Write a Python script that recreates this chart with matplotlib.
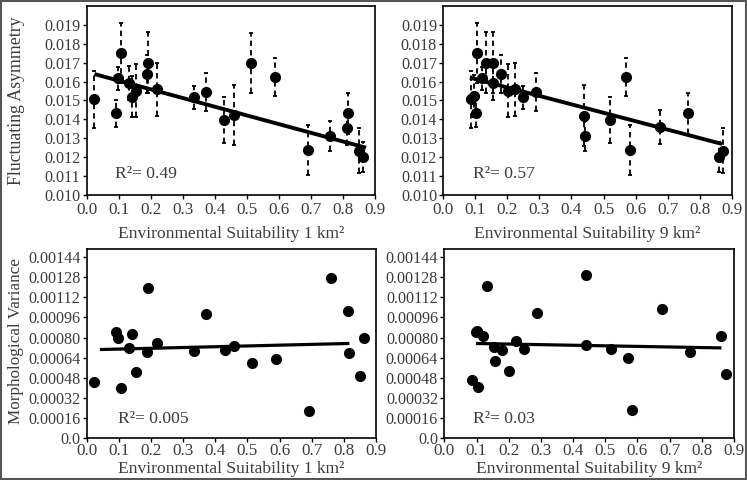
import numpy as np
import matplotlib
matplotlib.use('Agg')
import matplotlib.pyplot as plt
from matplotlib.patches import Rectangle

plt.rcParams['font.family'] = ['Liberation Serif', 'DejaVu Serif']
txt_col = '#3c3c3c'

# environmental suitability of each population (1 km grid)
suit_1km = [0.024, 0.091, 0.098, 0.106, 0.132, 0.142, 0.154, 0.189, 0.190, 0.220, 0.334,
            0.372, 0.429, 0.459, 0.514, 0.589, 0.690, 0.760, 0.812, 0.816, 0.849, 0.864]
fa_1km = [0.01506, 0.01432, 0.01617, 0.01750, 0.01591, 0.01520, 0.01552, 0.01640, 0.01700, 0.01559, 0.01517,
          0.01547, 0.01397, 0.01423, 0.01697, 0.01626, 0.01238, 0.01314, 0.01356, 0.01432, 0.01234, 0.01199]
fa_err_1km = [0.0015, 0.0007, 0.0006, 0.0016, 0.0009, 0.0011, 0.0014, 0.0010, 0.0016, 0.0014, 0.0006,
              0.0010, 0.0012, 0.0016, 0.0016, 0.0010, 0.0013, 0.0008, 0.0009, 0.0011, 0.0012, 0.0008]
mv_1km = [0.000449, 0.000840, 0.000798, 0.000402, 0.000719, 0.000827, 0.000523, 0.000687, 0.001189, 0.000758, 0.000695,
          0.000985, 0.000697, 0.000734, 0.000600, 0.000626, 0.000217, 0.001276, 0.001009, 0.000676, 0.000494, 0.000800]

# same populations, 9 km grid
suit_9km = [0.086, 0.097, 0.101, 0.104, 0.120, 0.133, 0.154, 0.156, 0.179, 0.202, 0.223,
            0.249, 0.289, 0.439, 0.441, 0.519, 0.571, 0.582, 0.675, 0.763, 0.860, 0.874]
fa_9km = [0.01506, 0.01524, 0.01432, 0.01750, 0.01617, 0.01700, 0.01594, 0.01700, 0.01640, 0.01552, 0.01559,
          0.01517, 0.01547, 0.01420, 0.01312, 0.01397, 0.01626, 0.01238, 0.01358, 0.01432, 0.01199, 0.01234]
fa_err_9km = [0.0015, 0.0011, 0.0007, 0.0016, 0.0006, 0.0016, 0.0009, 0.0016, 0.0010, 0.0014, 0.0014,
              0.0006, 0.0010, 0.0016, 0.0008, 0.0012, 0.0010, 0.0013, 0.0009, 0.0011, 0.0008, 0.0012]
mv_9km = [0.000459, 0.000840, 0.000851, 0.000408, 0.000811, 0.001208, 0.000728, 0.000611, 0.000699, 0.000533, 0.000771,
          0.000707, 0.000997, 0.001293, 0.000744, 0.000707, 0.000635, 0.000221, 0.001024, 0.000688, 0.000811, 0.000507]

# regression lines as drawn in the figure: (intercept, slope, x from, x to)
fit_fa_1km = (0.01651, -0.00460, 0.024, 0.872)
fit_fa_9km = (0.01658, -0.00446, 0.083, 0.870)
fit_mv_1km = (0.000702, 0.000062, 0.041, 0.817)
fit_mv_9km = (0.000757, -0.000046, 0.098, 0.861)

r2_labels = ['R²= 0.49', 'R²= 0.57', 'R²= 0.005', 'R²= 0.03']
xlabels = ['Environmental Suitability 1 km²', 'Environmental Suitability 9 km²']


def draw_fit(ax, fit, lw):
    a, b, x0, x1 = fit
    xs = np.array([x0, x1])
    ax.plot(xs, a + b * xs, color='black', lw=lw, solid_capstyle='butt', zorder=4)


def style_axes(ax, xlabel, xpad, lpad):
    ax.set_xlim(0, 0.9)
    ax.set_xticks(np.arange(0, 0.91, 0.1))
    ax.set_xticklabels(['%.1f' % v for v in np.arange(0, 0.91, 0.1)], fontsize=12.3, color=txt_col)
    ax.tick_params(direction='out', length=3, width=1, pad=1.5, color='black')
    ax.tick_params(axis='x', pad=xpad)
    ax.set_xlabel(xlabel, fontsize=12.6, color=txt_col, labelpad=lpad)
    for s in ax.spines.values():
        s.set_linewidth(1.2)


fig = plt.figure(figsize=(7.47, 4.8), dpi=100)
axes = [fig.add_axes([0.1161, 0.5938, 0.3859, 0.3937]),
        fig.add_axes([0.5934, 0.5938, 0.3861, 0.3937]),
        fig.add_axes([0.1161, 0.0869, 0.3873, 0.3937]),
        fig.add_axes([0.5948, 0.0869, 0.3878, 0.3937])]

fa_ticks = np.arange(0.010, 0.0195, 0.001)
mv_ticks = np.arange(0, 0.00145, 0.00016)

for i, (x, y, e, fit) in enumerate([(suit_1km, fa_1km, fa_err_1km, fit_fa_1km),
                                    (suit_9km, fa_9km, fa_err_9km, fit_fa_9km)]):
    ax = axes[i]
    eb = ax.errorbar(x, y, yerr=e, fmt='o', color='black', ms=7, ecolor='black',
                     elinewidth=1.3, capsize=1.5, capthick=1.3, zorder=3)
    eb[2][0].set_linestyle((0, (3, 2.2)))
    draw_fit(ax, fit, 2.8)
    ax.set_ylim(0.010, 0.020)
    ax.set_yticks(fa_ticks)
    ax.set_yticklabels(['%.3f' % v for v in fa_ticks], fontsize=11.6, color=txt_col)
    style_axes(ax, xlabels[i], 2, 5.5)

for i, (x, y, fit) in enumerate([(suit_1km, mv_1km, fit_mv_1km), (suit_9km, mv_9km, fit_mv_9km)]):
    ax = axes[i + 2]
    ax.plot(x, y, 'o', color='black', ms=7, zorder=3)
    draw_fit(ax, fit, 2.3)
    ax.set_ylim(0, 0.0015)
    ax.set_yticks(mv_ticks)
    ax.set_yticklabels(['0.0' if v == 0 else '%.5f' % v for v in mv_ticks], fontsize=11.6, color=txt_col)
    style_axes(ax, xlabels[i], 0.5, 1)

for ax, lab, xx, yy in zip(axes, r2_labels, [0.098, 0.102, 0.109, 0.1], [0.11, 0.11, 0.10, 0.10]):
    ax.text(xx, yy, lab, transform=ax.transAxes, fontsize=12.6, color=txt_col, va='center', ha='left')

fig.text(0.0215, 0.79, 'Fluctuating Asymmetry', rotation=90, fontsize=12.8, color=txt_col, va='center', ha='center')
fig.text(0.0215, 0.29, 'Morphological Variance', rotation=90, fontsize=12.3, color=txt_col, va='center', ha='center')

fig.patches.append(Rectangle((0.002, 0.002), 0.996, 0.996, transform=fig.transFigure,
                             fill=False, edgecolor='#555555', lw=1.5))

fig.savefig('out.png', dpi=100)
